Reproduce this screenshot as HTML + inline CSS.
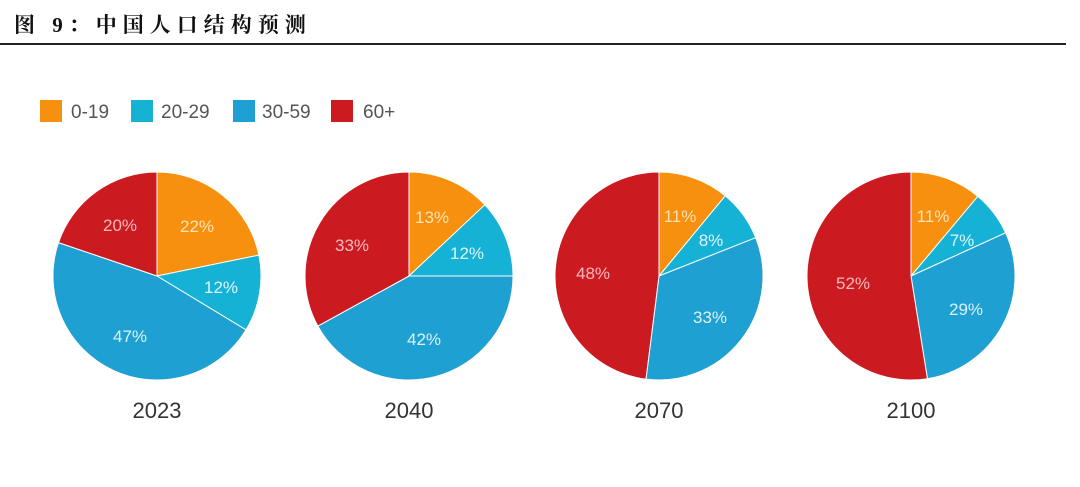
<!DOCTYPE html>
<html><head><meta charset="utf-8"><style>
body{margin:0;background:#fff;width:1080px;height:482px;overflow:hidden}
</style></head><body>
<svg width="1080" height="482" xmlns="http://www.w3.org/2000/svg" id="s">
<text x="14" y="32" font-family="'Liberation Serif','Noto Serif CJK SC',serif" font-weight="bold" font-size="21" letter-spacing="6" fill="#111">图 9：中国人口结构预测</text>
<rect x="0" y="43" width="1066" height="2" fill="#222"/>
<g font-family="'Liberation Sans',sans-serif" font-size="19" fill="#555">
<rect x="40" y="100" width="22" height="22" fill="#F7900F"/><text x="71" y="118">0-19</text>
<rect x="131" y="100" width="22" height="22" fill="#16B2D6"/><text x="161" y="118">20-29</text>
<rect x="233" y="100" width="22" height="22" fill="#1EA0D2"/><text x="262" y="118">30-59</text>
<rect x="331" y="100" width="22" height="22" fill="#CB1B20"/><text x="363" y="118">60+</text>
</g>
<g id="pies"></g>
</svg>
<script>
var cols=["#F7900F","#16B2D6","#1EA0D2","#CB1B20"];
var lc=["#FFE2B5","#DDF5FC","#DDF2FB","#F9B9BC"];
var data=[
 {cx:157,y:"2023",v:[22,12,47,20],l:[[197,226],[221,287],[130,336],[120,225]]},
 {cx:409,y:"2040",v:[13,12,42,33],l:[[432,217],[467,253],[424,339],[352,245]]},
 {cx:659,y:"2070",v:[11,8,33,48],l:[[680,216],[711,240],[710,317],[593,273]]},
 {cx:911,y:"2100",v:[11,7,29,52],l:[[933,216],[962,240],[966,309],[853,283]]}];
var cy=276,r=104,h="";
data.forEach(function(d){
 var t=d.v.reduce(function(a,b){return a+b},0),a=0;
 d.v.forEach(function(v,i){
  var a0=a/t*2*Math.PI,a1=(a+v)/t*2*Math.PI;a+=v;
  var x0=d.cx+r*Math.sin(a0),y0=cy-r*Math.cos(a0),x1=d.cx+r*Math.sin(a1),y1=cy-r*Math.cos(a1);
  h+='<path d="M'+d.cx+','+cy+' L'+x0+','+y0+' A'+r+','+r+' 0 '+((a1-a0)>Math.PI?1:0)+' 1 '+x1+','+y1+' Z" fill="'+cols[i]+'" stroke="#fff" stroke-width="1"/>';
 });
 d.v.forEach(function(v,i){
  h+='<text x="'+d.l[i][0]+'" y="'+(d.l[i][1]+6)+'" text-anchor="middle" font-family="Liberation Sans,sans-serif" font-size="17" fill="'+lc[i]+'">'+v+'%</text>';
 });
 h+='<text x="'+d.cx+'" y="418" text-anchor="middle" font-family="Liberation Sans,sans-serif" font-size="22" fill="#333">'+d.y+'</text>';
});
document.getElementById("pies").innerHTML=h;
</script>
</body></html>
